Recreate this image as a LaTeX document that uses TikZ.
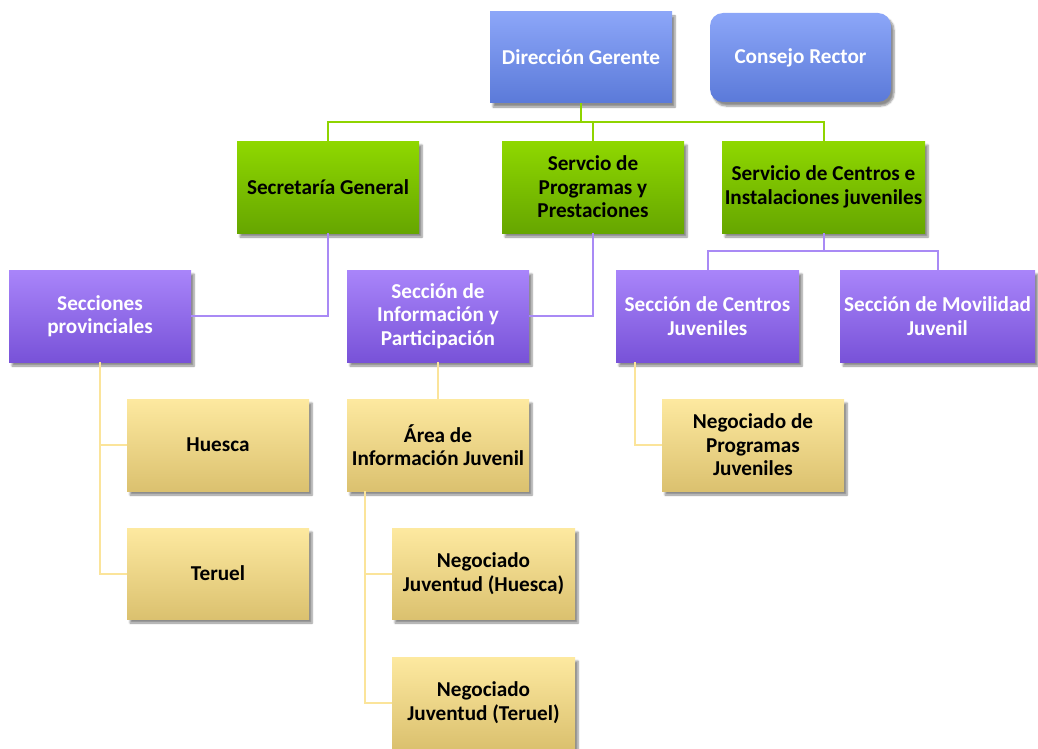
\documentclass[tikz,border=0pt]{standalone}
\usepackage{fontspec}
\setmainfont{Carlito}
\usetikzlibrary{shadows.blur}
\definecolor{bluetop}{HTML}{8CA6F8}
\definecolor{bluebot}{HTML}{5B7AD9}
\definecolor{greentop}{HTML}{8FD800}
\definecolor{greenbot}{HTML}{66A600}
\definecolor{purptop}{HTML}{A985FA}
\definecolor{purpbot}{HTML}{7852D8}
\definecolor{yeltop}{HTML}{FDE9A0}
\definecolor{yelbot}{HTML}{DBC16F}
\definecolor{gline}{HTML}{8FD400}
\definecolor{pline}{HTML}{A98AF5}
\definecolor{yline}{HTML}{FBE49A}
\tikzset{
  box/.style={rectangle, inner sep=1pt, align=center,
    font=\fontsize{21.2}{23.5}\selectfont\bfseries,
    blur shadow={shadow xshift=3pt, shadow yshift=-4pt, shadow blur steps=6, shadow opacity=45}},
  bluebox/.style={box, top color=bluetop, bottom color=bluebot, text=white},
  greenbox/.style={box, top color=greentop, bottom color=greenbot, text=black},
  purpbox/.style={box, top color=purptop, bottom color=purpbot, text=white},
  yelbox/.style={box, top color=yeltop, bottom color=yelbot, text=black},
  gconn/.style={draw=gline, line width=2pt},
  pconn/.style={draw=pline, line width=2pt},
  yconn/.style={draw=yline, line width=2pt},
}
\begin{document}
\begin{tikzpicture}[x=1pt,y=-1pt]
\useasboundingbox (0,0) rectangle (1038,749);
% nodes
\node[bluebox, minimum width=182pt, minimum height=91pt] (dg) at (581,57.5) {Dirección Gerente};
\node[bluebox, rounded corners=13pt, minimum width=181pt, minimum height=89pt] (cr) at (800.5,57.5) {Consejo Rector};
\node[greenbox, minimum width=182pt, minimum height=92pt] (sg) at (328,187) {Secretaría General};
\node[greenbox, minimum width=182pt, minimum height=92pt] (spp) at (593,187) {Servcio de\\Programas y\\Prestaciones};
\node[greenbox, minimum width=203pt, minimum height=92pt] (sci) at (823.5,187) {Servicio de Centros e\\Instalaciones juveniles};
\node[purpbox, minimum width=182pt, minimum height=92pt] (sp) at (100,316) {Secciones\\provinciales};
\node[purpbox, minimum width=182pt, minimum height=92pt] (si) at (438,316) {Sección de\\Información y\\Participación};
\node[purpbox, minimum width=183pt, minimum height=92pt] (sc) at (707.5,316) {Sección de Centros\\Juveniles};
\node[purpbox, minimum width=195pt, minimum height=92pt] (sm) at (937.5,316) {Sección de Movilidad\\Juvenil};
\node[yelbox, minimum width=182pt, minimum height=92pt] (hu) at (218,445) {Huesca};
\node[yelbox, minimum width=182pt, minimum height=91pt] (te) at (218,573.5) {Teruel};
\node[yelbox, minimum width=182pt, minimum height=92pt] (ar) at (438,445) {Área de\\Información Juvenil};
\node[yelbox, minimum width=183pt, minimum height=91pt] (nh) at (483.5,573.5) {Negociado\\Juventud (Huesca)};
\node[yelbox, minimum width=183pt, minimum height=91pt] (nt) at (483.5,702.5) {Negociado\\Juventud (Teruel)};
\node[yelbox, minimum width=182pt, minimum height=92pt] (np) at (753,445) {Negociado de\\Programas\\Juveniles};
% connectors
\coordinate (g1) at (581,122);
\coordinate (p1) at (823.5,251);
\draw[gconn] (dg.south) -- (g1);
\draw[gconn] (sg.north) |- (g1) -| (sci.north);
\draw[gconn] (spp.north) -- (spp.north |- g1);
\draw[pconn] (sg.south) |- (sp.east);
\draw[pconn] (spp.south) |- (si.east);
\draw[pconn] (sci.south) -- (p1);
\draw[pconn] (sc.north) |- (p1) -| (sm.north);
\draw[yconn] (sp.south) |- (hu.west);
\draw[yconn] (sp.south) |- (te.west);
\draw[yconn] (si.south) -- (ar.north);
\draw[yconn] ([xshift=18pt]ar.south west) |- (nh.west);
\draw[yconn] ([xshift=18pt]ar.south west) |- (nt.west);
\draw[yconn] ([xshift=19pt]sc.south west) |- (np.west);
\end{tikzpicture}
\end{document}
